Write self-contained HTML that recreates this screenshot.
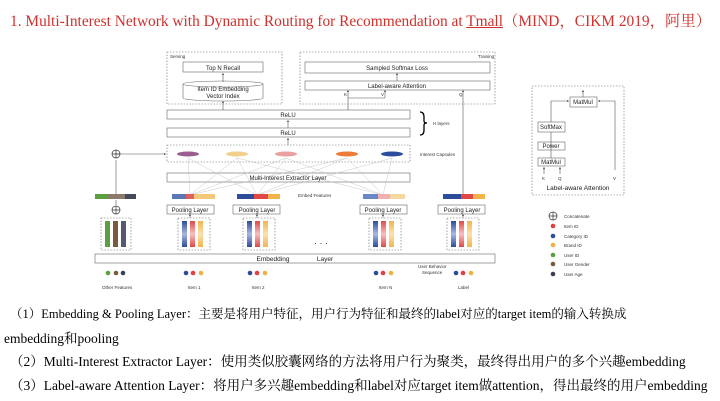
<!DOCTYPE html>
<html><head><meta charset="utf-8"><style>
body{margin:0;background:#fff;width:720px;height:401px;overflow:hidden;font-family:"Liberation Serif","Noto Serif CJK SC",serif}
.t{position:absolute;left:10px;font-size:13.5px;color:#000;white-space:nowrap}
</style></head><body>
<div class="t" style="top:9px;color:#d0312d;font-size:15.4px">1. Multi-Interest Network with Dynamic Routing for Recommendation at <u>Tmall</u>（MIND，CIKM 2019，阿里）</div>
<svg width="720" height="401" style="position:absolute;left:0;top:0" font-family="Liberation Sans, sans-serif">
<defs><marker id="a" markerWidth="4" markerHeight="4" refX="2" refY="2" orient="auto"><path d="M0,0L4,2L0,4z" fill="#555"/></marker>
<linearGradient id="gb" x1="0" y1="0" x2="0" y2="1"><stop offset="0" stop-color="#2c4c9c"/><stop offset="0.5" stop-color="#a8b8e0"/><stop offset="1" stop-color="#2c4c9c"/></linearGradient>
<linearGradient id="gr" x1="0" y1="0" x2="0" y2="1"><stop offset="0" stop-color="#e04848"/><stop offset="0.5" stop-color="#f6c0c0"/><stop offset="1" stop-color="#e04848"/></linearGradient>
<linearGradient id="gy" x1="0" y1="0" x2="0" y2="1"><stop offset="0" stop-color="#f2b44a"/><stop offset="0.5" stop-color="#fbe2b0"/><stop offset="1" stop-color="#f2b44a"/></linearGradient>
</defs>
<g fill="none" stroke="#666" stroke-width="0.6">
<rect x="167" y="52" width="115" height="52" stroke-dasharray="1.5,1.5"/>
<rect x="300" y="52" width="195" height="52" stroke-dasharray="1.5,1.5"/>
<rect x="183" y="62" width="80" height="10"/>
<path d="M183,84 v14 a40,3 0 0 0 80,0 v-14"/><ellipse cx="223" cy="84" rx="40" ry="3"/>
<rect x="305" y="62" width="185" height="11"/>
<rect x="305" y="81" width="185" height="9"/>
<rect x="167" y="110" width="243" height="9"/>
<rect x="167" y="128" width="243" height="9"/>
<rect x="167" y="145" width="243" height="17" stroke-dasharray="1.5,1.5"/>
<rect x="167" y="173" width="243" height="9"/>
<rect x="167" y="205" width="47" height="9"/><rect x="233" y="205" width="47" height="9"/><rect x="360" y="205" width="47" height="9"/><rect x="438" y="205" width="47" height="9"/>
<g stroke-dasharray="1.5,1.5"><rect x="101" y="218" width="30" height="32"/><rect x="178" y="218" width="32" height="32"/><rect x="243" y="218" width="32" height="32"/><rect x="369" y="218" width="32" height="32"/><rect x="447" y="218" width="32" height="32"/></g>
<rect x="95" y="254" width="400" height="9"/>
<rect x="532" y="86" width="92" height="109" stroke-dasharray="1.5,1.5"/>
<rect x="570" y="97" width="27" height="10"/><rect x="538" y="122" width="27" height="10"/><rect x="538" y="142" width="27" height="8"/><rect x="538" y="158" width="27" height="8"/>
</g>
<g stroke="#555" stroke-width="0.6" fill="none" marker-end="url(#a)">
<line x1="223" y1="82" x2="223" y2="74"/><line x1="223" y1="110" x2="223" y2="102"/>
<line x1="397" y1="81" x2="397" y2="74"/>
<path d="M348,110 V98 H385 M348,98 V91"/><line x1="385" y1="98" x2="385" y2="91"/>
<line x1="463" y1="195" x2="463" y2="91"/>
<line x1="288" y1="128" x2="288" y2="121"/><line x1="288" y1="145" x2="288" y2="139"/>
<line x1="116" y1="154" x2="165" y2="154"/>
<path d="M551,122 V101 H568"/><path d="M615,170 V101 H599"/>
<line x1="583" y1="97" x2="583" y2="91"/>
<line x1="544" y1="174" x2="544" y2="168"/><line x1="560" y1="174" x2="560" y2="168"/>
</g>
<g stroke="#555" stroke-width="0.6"><line x1="551" y1="132" x2="551" y2="158"/><line x1="116" y1="160" x2="116" y2="195"/><line x1="116" y1="200" x2="116" y2="205"/></g>
<g stroke="#bbb" stroke-width="0.4">
<path d="M190,195L188,158M190,195L237,158M190,195L286,158M257,195L188,158M257,195L237,158M257,195L286,158M257,195L347,158M257,195L392,158M383,195L286,158M383,195L347,158M383,195L392,158M383,195L237,158M190,195L347,158"/>
</g>
<path d="M420,112 q4,0 4,5 v4 q0,2 3,2 q-3,0 -3,2 v5 q0,5 -4,5" stroke="#000" stroke-width="1.3" fill="none"/>
<g><ellipse cx="188" cy="154" rx="11" ry="2.5" fill="#9a5f8e"/><ellipse cx="237" cy="154" rx="11" ry="2.5" fill="#f0d08a"/><ellipse cx="286" cy="154" rx="11" ry="2.5" fill="#e8a0a0"/><ellipse cx="347" cy="154" rx="11" ry="2.5" fill="#ee7a38"/><ellipse cx="392" cy="154" rx="11" ry="2.5" fill="#2c4c9c"/></g>
<g fill="none" stroke="#333" stroke-width="0.7"><circle cx="116" cy="154" r="4"/><path d="M112,154h8M116,150v8"/><circle cx="116" cy="210" r="4"/><path d="M112,210h8M116,206v8"/><circle cx="553" cy="216" r="4"/><path d="M549,216h8M553,212v8"/></g>
<g>
<rect x="95" y="194" width="41" height="5" fill="#8b7a6a"/><rect x="95" y="194" width="12" height="5" fill="#5aa040"/><rect x="125" y="194" width="11" height="5" fill="#444a5a"/>
<rect x="172" y="194" width="43" height="5" fill="#f2c87a"/><rect x="172" y="194" width="20" height="5" fill="#5a78b8"/><rect x="186" y="194" width="8" height="5" fill="#e06060"/>
<rect x="237" y="194" width="43" height="5" fill="#f2b44a"/><rect x="237" y="194" width="22" height="5" fill="#2c4c9c"/><rect x="254" y="194" width="14" height="5" fill="#e04848"/>
<rect x="363" y="194" width="42" height="5" fill="#f6d8a0"/><rect x="363" y="194" width="18" height="5" fill="#6a88c8"/><rect x="378" y="194" width="12" height="5" fill="#f0b0b0"/>
<rect x="443" y="194" width="42" height="5" fill="#f2b44a"/><rect x="443" y="194" width="18" height="5" fill="#2c4c9c"/><rect x="461" y="194" width="12" height="5" fill="#e04848"/>
</g>
<g>
<rect x="105" y="221" width="5" height="26" fill="#5aa040"/><rect x="113" y="221" width="5" height="26" fill="#7a5a3a"/><rect x="121" y="221" width="5" height="26" fill="#555a6a"/>
<g id="c"><rect x="182" y="221" width="5" height="26" fill="url(#gb)"/><rect x="190" y="221" width="5" height="26" fill="url(#gr)"/><rect x="198" y="221" width="5" height="26" fill="url(#gy)"/></g>
<use href="#c" x="65"/><use href="#c" x="191"/><use href="#c" x="269"/>
</g>
<g stroke="#555" stroke-width="0.6" marker-end="url(#a)">
<line x1="190" y1="218" x2="190" y2="215"/><line x1="257" y1="218" x2="257" y2="215"/><line x1="383" y1="218" x2="383" y2="215"/><line x1="463" y1="218" x2="463" y2="215"/>
</g>
<g>
<circle cx="108" cy="273" r="2.3" fill="#5aa040"/><circle cx="116" cy="273" r="2.3" fill="#7a5a3a"/><circle cx="123" cy="273" r="2.3" fill="#3a3f50"/>
<g id="d"><circle cx="186" cy="273" r="2.3" fill="#2c4c9c"/><circle cx="193" cy="273" r="2.3" fill="#e04040"/><circle cx="201" cy="273" r="2.3" fill="#f2b040"/></g>
<use href="#d" x="64"/><use href="#d" x="190"/><use href="#d" x="270"/>
<circle cx="553" cy="226" r="2.3" fill="#e04040"/><circle cx="553" cy="236" r="2.3" fill="#2c4c9c"/><circle cx="553" cy="245" r="2.3" fill="#f2b040"/><circle cx="553" cy="255" r="2.3" fill="#5aa040"/><circle cx="553" cy="264" r="2.3" fill="#7a5a3a"/><circle cx="553" cy="274" r="2.3" fill="#3a3f50"/>
</g>
<g font-size="6" fill="#222" text-anchor="middle">
<text x="223" y="70">Top N Recall</text><text x="223" y="91">Item ID Embedding</text><text x="223" y="98">Vector Index</text>
<text x="397" y="70">Sampled Softmax Loss</text><text x="397" y="88">Label-aware Attention</text>
<text x="288" y="117">ReLU</text><text x="288" y="135">ReLU</text><text x="288" y="180">Multi-Interest Extractor Layer</text>
<text x="190" y="212">Pooling Layer</text><text x="257" y="212">Pooling Layer</text><text x="383" y="212">Pooling Layer</text><text x="462" y="212">Pooling Layer</text>
<text x="273" y="261" font-size="6.5">Embedding</text><text x="325" y="261" font-size="6.5">Layer</text>
<text x="583" y="104">MatMul</text><text x="551" y="129">SoftMax</text><text x="551" y="148">Power</text><text x="551" y="164">MatMul</text>
<text x="578" y="190" font-size="6.5">Label-aware Attention</text>
<text x="321" y="246" font-size="9">· · ·</text>
</g>
<g font-size="4.5" fill="#333">
<text x="170" y="58">Serving</text><text x="478" y="58">Training</text>
<text x="344" y="96">K</text><text x="381" y="96">V</text><text x="459" y="96">Q</text>
<text x="433" y="125">H layers</text><text x="420" y="156">Interest Capsules</text><text x="298" y="197">Embed Features</text>
<text x="418" y="268">User Behavior</text><text x="422" y="274">Sequence</text>
<text x="102" y="289">Other Features</text><text x="188" y="289">Item 1</text><text x="252" y="289">Item 2</text><text x="379" y="289">Item N</text><text x="458" y="289">Label</text>
<text x="542" y="180">K</text><text x="558" y="180">Q</text><text x="613" y="180">V</text>
<text x="564" y="218">Concatenate</text><text x="564" y="228">Item ID</text><text x="564" y="238">Category ID</text><text x="564" y="247">Brand ID</text><text x="564" y="257">User ID</text><text x="564" y="266">User Gender</text><text x="564" y="276">User Age</text>
</g>
</svg>
<div class="t" style="top:304px;font-size:12.5px">（1）Embedding &amp; Pooling Layer：主要是将用户特征，用户行为特征和最终的label对应的target item的输入转换成</div>
<div class="t" style="top:327px;left:4px">embedding和pooling</div>
<div class="t" style="top:350px">（2）Multi-Interest Extractor Layer：使用类似胶囊网络的方法将用户行为聚类，最终得出用户的多个兴趣embedding</div>
<div class="t" style="top:374px">（3）Label-aware Attention Layer：将用户多兴趣embedding和label对应target item做attention，得出最终的用户embedding</div>
</body></html>
